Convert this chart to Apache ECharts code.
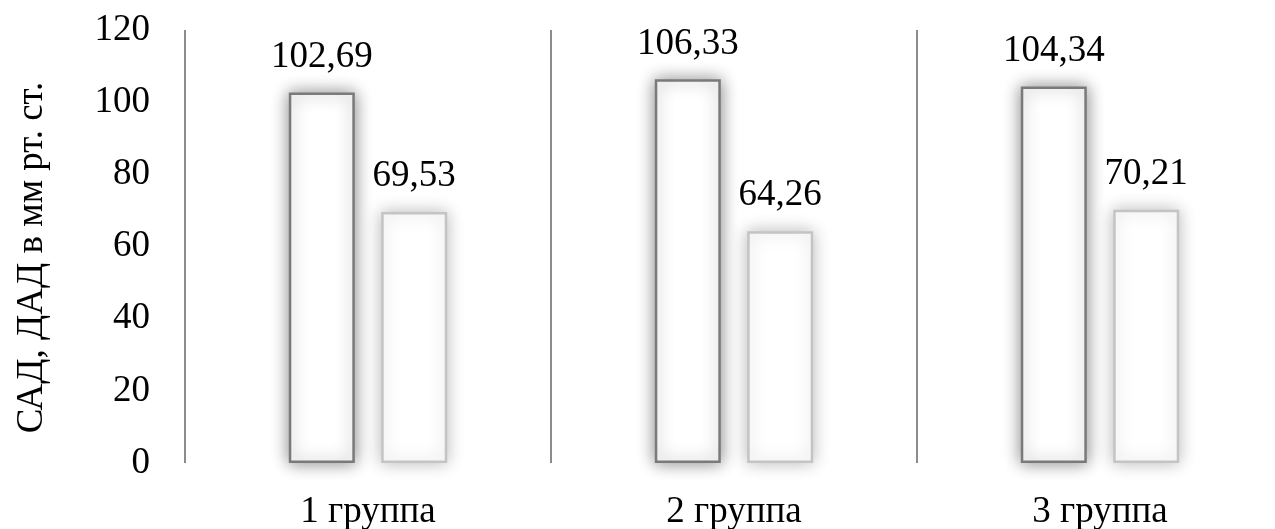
<!DOCTYPE html>
<html>
<head>
<meta charset="utf-8">
<script src="https://cdn.jsdelivr.net/npm/echarts@6/dist/echarts.min.js"></script>
<style>
  html, body { margin: 0; padding: 0; background: #fff; }
  #main { width: 1275px; height: 529px; }
</style>
</head>
<body>
<div id="main"></div>
<script>
// данные
var groups = ['1 группа', '2 группа', '3 группа'];
var sad = [102.69, 106.33, 104.34];
var dad = [69.53, 64.26, 70.21];
var yTicks = [0, 20, 40, 60, 80, 100, 120];

var font = '"Liberation Serif", "Times New Roman", serif';
var fs = 37;

var myChart = echarts.init(document.getElementById('main'));

function fmt(p) {
  return p.value.toFixed(2).replace('.', ',');
}

var option = {
  backgroundColor: '#fff',
  textStyle: { fontFamily: font },
  grid: { left: 185, top: 30, width: 1098, height: 433, outerBoundsMode: 'none', containLabel: false },
  xAxis: {
    type: 'category',
    data: groups,
    axisLine: { show: false },
    axisTick: { show: false },
    splitLine: { show: true, lineStyle: { color: '#8c8c8c', width: 2 } },
    axisLabel: { color: '#000', fontSize: fs, fontFamily: font, margin: 31 }
  },
  yAxis: {
    type: 'value',
    min: yTicks[0],
    max: yTicks[yTicks.length - 1],
    interval: 20,
    name: 'САД, ДАД в мм рт. ст.',
    nameLocation: 'middle',
    nameRotate: 90,
    nameGap: 134,
    nameTextStyle: { color: '#000', fontSize: fs, fontFamily: font, padding: [0, 22, 0, 0] },
    axisLine: { show: false },
    axisTick: { show: false },
    splitLine: { show: false },
    axisLabel: { color: '#000', fontSize: fs, fontFamily: font, margin: 35 }
  },
  series: [
    {
      name: 'САД',
      type: 'bar',
      data: sad,
      barWidth: 66,
      barGap: '40%',
      itemStyle: {
        color: '#fff',
        borderColor: '#7a7a7a',
        borderWidth: 2.5,
        shadowBlur: 16,
        shadowColor: 'rgba(0,0,0,0.45)'
      },
      label: { show: true, position: 'top', distance: 17, color: '#000', fontSize: fs, fontFamily: font, formatter: fmt }
    },
    {
      name: 'ДАД',
      type: 'bar',
      data: dad,
      barWidth: 66,
      itemStyle: {
        color: '#fff',
        borderColor: '#c4c4c4',
        borderWidth: 2.5,
        shadowBlur: 16,
        shadowColor: 'rgba(0,0,0,0.25)'
      },
      label: { show: true, position: 'top', distance: 17, color: '#000', fontSize: fs, fontFamily: font, formatter: fmt }
    }
  ]
};

myChart.setOption(option);
</script>
</body>
</html>
